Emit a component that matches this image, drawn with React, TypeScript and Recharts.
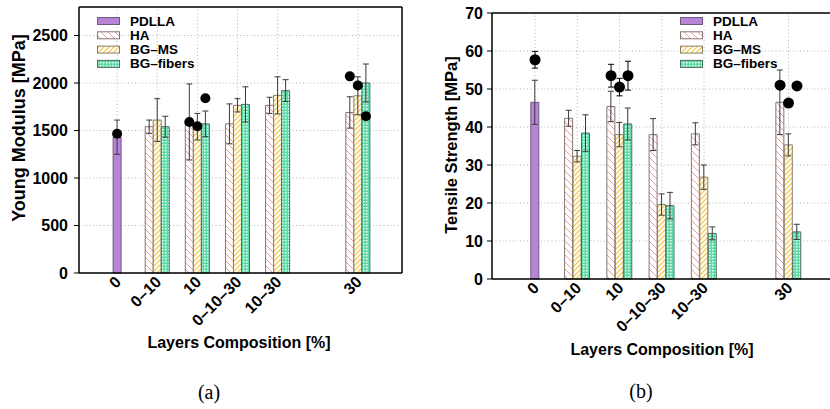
import * as React from "react"
import {
  ComposedChart,
  Bar,
  Line,
  ErrorBar,
  XAxis,
  YAxis,
  CartesianGrid,
  ReferenceLine,
  Legend,
} from "recharts"

// ─── Data ────────────────────────────────────────────────────────────────────
const CATEGORIES = ["0", "0–10", "10", "0–10–30", "10–30", "30"]
// position of each group on the composition axis (gap before 30)
const CATEGORY_POS = [0, 1, 2, 3, 4, 6]
const SERIES_NAMES = ["PDLLA", "HA", "BG–MS", "BG–fibers"]

// (a) Young modulus [MPa]
const YM_PDLLA = [1430, null, null, null, null, null]
const YM_PDLLA_ERR = [180, null, null, null, null, null]
const YM_HA = [null, 1540, 1590, 1570, 1765, 1690]
const YM_HA_ERR = [null, 70, 400, 210, 85, 165]
const YM_BGMS = [null, 1610, 1540, 1765, 1870, 1865]
const YM_BGMS_ERR = [null, 225, 140, 70, 195, 200]
const YM_FIB = [null, 1540, 1570, 1775, 1920, 2000]
const YM_FIB_ERR = [null, 110, 135, 185, 115, 200]
// black markers
const YM_DOT_PDLLA = [1465, null, null, null, null, null]
const YM_DOT_HA = [null, null, 1590, null, null, 2070]
const YM_DOT_BGMS = [null, null, 1545, null, null, 1975]
const YM_DOT_FIB = [null, null, 1840, null, null, 1650]
const YM_TICKS = [0, 500, 1000, 1500, 2000, 2500]

// (b) Tensile strength [MPa]
const TS_PDLLA = [46.5, null, null, null, null, null]
const TS_PDLLA_ERR = [5.8, null, null, null, null, null]
const TS_HA = [null, 42.3, 45.4, 38.0, 38.2, 46.5]
const TS_HA_ERR = [null, 2.1, 4.0, 4.2, 2.9, 8.5]
const TS_BGMS = [null, 32.3, 38.0, 19.6, 26.8, 35.3]
const TS_BGMS_ERR = [null, 1.5, 3.2, 2.8, 3.2, 2.9]
const TS_FIB = [null, 38.4, 40.8, 19.3, 12.0, 12.4]
const TS_FIB_ERR = [null, 4.8, 4.2, 3.5, 1.7, 2.0]
const TS_DOT_PDLLA = [57.7, null, null, null, null, null]
const TS_DOT_PDLLA_ERR = [2.2, null, null, null, null, null]
const TS_DOT_HA = [null, null, 53.5, null, null, 51.0]
const TS_DOT_HA_ERR = [null, null, 3.0, null, null, null]
const TS_DOT_BGMS = [null, null, 50.5, null, null, 46.3]
const TS_DOT_BGMS_ERR = [null, null, 2.3, null, null, null]
const TS_DOT_FIB = [null, null, 53.5, null, null, 50.8]
const TS_DOT_FIB_ERR = [null, null, 3.8, null, null, null]
const TS_TICKS = [0, 10, 20, 30, 40, 50, 60, 70]

const NONE = [null, null, null, null, null, null]

// ─── Style ───────────────────────────────────────────────────────────────────
const FONT = "'Liberation Sans', Arial, Helvetica, sans-serif"
const GRID = "#b4b4b4"
const SERIES_STROKE = ["#6f5a80", "#857474", "#85806c", "#566a62"]
const SERIES_SLOT = [0, -1, 0, 1] // bar offset inside a group, in bar widths

// the axis is cut into slots one bar wide
const BAR_UNIT = 0.2
const FIRST_SLOT = -0.8
const SLOT_COUNT = 40

type Val = number | null
type Row = { key: string; label: string; [k: string]: string | number | null }

function buildRows(values: Val[][], errors: Val[][], dots: Val[][], dotErrors: Val[][]) {
  const rows: Row[] = Array.from({ length: SLOT_COUNT }, (_, i) => ({ key: `s${i}`, label: "", dot: null, dotErr: null }))
  CATEGORY_POS.forEach((pos, c) => {
    const center = Math.round((pos - FIRST_SLOT) / BAR_UNIT)
    rows[center].label = CATEGORIES[c]
    SERIES_NAMES.forEach((_, s) => {
      const v = values[s][c]
      if (v == null) return
      const row = rows[center + SERIES_SLOT[s]]
      row[`v${s}`] = v
      row[`e${s}`] = errors[s][c]
      if (dots[s][c] != null) {
        row.dot = dots[s][c]
        row.dotErr = dotErrors[s][c]
      }
    })
  })
  return rows
}

function Patterns({ id }: { id: string }) {
  return (
    <defs>
      <pattern id={`${id}-p0`} width="4" height="4" patternUnits="userSpaceOnUse">
        <rect width="4" height="4" fill="#b784d8" />
      </pattern>
      <pattern id={`${id}-p1`} width="7" height="7" patternUnits="userSpaceOnUse">
        <rect width="7" height="7" fill="#fff" />
        <path d="M0,0 L7,7 M-1,6 L1,8 M6,-1 L8,1" stroke="#f09a9a" strokeWidth="1" />
      </pattern>
      <pattern id={`${id}-p2`} width="5" height="5" patternUnits="userSpaceOnUse">
        <rect width="5" height="5" fill="#fffdf3" />
        <path d="M0,5 L5,0 M-1,1 L1,-1 M4,6 L6,4" stroke="#f3c247" strokeWidth="1.1" />
      </pattern>
      <pattern id={`${id}-p3`} width="3" height="3" patternUnits="userSpaceOnUse">
        <rect width="3" height="3" fill="#58dba6" />
        <rect width="1.5" height="1.5" fill="#f0fcf6" />
      </pattern>
    </defs>
  )
}

function PanelLegend({ id }: { id: string }) {
  return (
    <svg width={140} height={64} style={{ overflow: "visible" }}>
      {SERIES_NAMES.map((name, s) => {
        const cy = 7 + s * 14.3
        return (
          <g key={name}>
            <rect x={0.5} y={cy - 3.5} width={22} height={7} fill={`url(#${id}-p${s})`} stroke={SERIES_STROKE[s]} />
            <text x={33} y={cy} dominantBaseline="central" fontFamily={FONT} fontWeight="bold" fontSize={13.5} fill="#000">
              {name}
            </text>
          </g>
        )
      })}
    </svg>
  )
}

function CategoryTick(props: any) {
  const { x, y, index, payload, rows } = props
  const label = rows[index ?? payload?.index]?.label
  if (!label) return null
  return (
    <text
      transform={`translate(${x + 5},${y + 10}) rotate(-45)`}
      textAnchor="end"
      fontFamily={FONT}
      fontWeight="bold"
      fontSize={16}
      fill="#000"
    >
      {label}
    </text>
  )
}

interface PanelProps {
  id: string
  rows: Row[]
  yMax: number
  yTicks: number[]
  width: number
  margin: { top: number; right: number; bottom: number; left: number }
  yAxisWidth: number
  padLeft: number
  tickMargin: number
  dotR: number
  legendPos: { left: number; top: number }
}

function Panel({ id, rows, yMax, yTicks, width, margin, yAxisWidth, padLeft, tickMargin, dotR, legendPos }: PanelProps) {
  const axisLine = { stroke: "#000", strokeWidth: 1.5 }
  const tickStyle = { fontSize: 16, fontWeight: "bold", fill: "#000", fontFamily: FONT }
  const centers = rows.filter((r) => r.label)
  const lastKey = rows[rows.length - 1].key
  return (
    <ComposedChart width={width} height={409} data={rows} margin={margin} barCategoryGap={0} barGap={0}>
      <Patterns id={id} />
      <CartesianGrid vertical={false} stroke={GRID} strokeDasharray="1 2.5" />
      {centers.map((r) => (
        <ReferenceLine key={r.key} x={r.key} stroke={GRID} strokeDasharray="1 2.5" zIndex={-100} />
      ))}
      <XAxis
        dataKey="key"
        type="category"
        interval={0}
        height={60}
        tickSize={0}
        tickMargin={0}
        axisLine={axisLine}
        tickLine={false}
        padding={{ left: padLeft, right: 0 }}
        tick={(p: any) => <CategoryTick {...p} rows={rows} />}
      />
      <YAxis
        type="number"
        domain={[0, yMax]}
        ticks={yTicks}
        width={yAxisWidth}
        axisLine={axisLine}
        tickLine={{ stroke: "#000" }}
        tickSize={5}
        tickMargin={tickMargin}
        tick={tickStyle}
      />
      {/* frame: top and right edges */}
      <ReferenceLine y={yMax} stroke="#000" strokeWidth={1.5} ifOverflow="visible" />
      <ReferenceLine x={lastKey} position="end" stroke="#000" strokeWidth={1.5} ifOverflow="visible" />
      {SERIES_NAMES.map((name, s) => (
        <Bar
          key={name}
          name={name}
          dataKey={`v${s}`}
          stackId="all"
          fill={`url(#${id}-p${s})`}
          stroke={SERIES_STROKE[s]}
          strokeWidth={1}
          isAnimationActive={false}
        >
          <ErrorBar dataKey={`e${s}`} width={3} stroke="#3a3a3a" strokeWidth={1} />
        </Bar>
      ))}
      <Line
        dataKey="dot"
        stroke="none"
        dot={{ r: dotR, fill: "#000", stroke: "#000", strokeWidth: 0 }}
        activeDot={false}
        isAnimationActive={false}
        legendType="none"
      >
        <ErrorBar dataKey="dotErr" width={3} stroke="#000" strokeWidth={1} />
      </Line>
      <Legend
        layout="vertical"
        align="center"
        verticalAlign="middle"
        wrapperStyle={{ left: legendPos.left, top: legendPos.top, width: 140, height: 64 }}
        content={() => <PanelLegend id={id} />}
      />
    </ComposedChart>
  )
}

const ymRows = buildRows(
  [YM_PDLLA, YM_HA, YM_BGMS, YM_FIB],
  [YM_PDLLA_ERR, YM_HA_ERR, YM_BGMS_ERR, YM_FIB_ERR],
  [YM_DOT_PDLLA, YM_DOT_HA, YM_DOT_BGMS, YM_DOT_FIB],
  [NONE, NONE, NONE, NONE]
)

const tsRows = buildRows(
  [TS_PDLLA, TS_HA, TS_BGMS, TS_FIB],
  [TS_PDLLA_ERR, TS_HA_ERR, TS_BGMS_ERR, TS_FIB_ERR],
  [TS_DOT_PDLLA, TS_DOT_HA, TS_DOT_BGMS, TS_DOT_FIB],
  [TS_DOT_PDLLA_ERR, TS_DOT_HA_ERR, TS_DOT_BGMS_ERR, TS_DOT_FIB_ERR]
)

function Title({ x, y, size, rotate, serif, children }: any) {
  return (
    <div
      style={{
        position: "absolute",
        left: x,
        top: y,
        transform: `translate(-50%, -50%)${rotate ? " rotate(-90deg)" : ""}`,
        whiteSpace: "nowrap",
        lineHeight: 1,
        fontFamily: serif ? "'Liberation Serif', 'Times New Roman', serif" : FONT,
        fontWeight: serif ? "normal" : "bold",
        fontSize: size,
        color: "#000",
      }}
    >
      {children}
    </div>
  )
}

export default function App() {
  return (
    <div style={{ position: "fixed", left: 0, top: 0, width: 830, height: 409, overflow: "hidden", background: "#fff" }}>
      <div style={{ position: "absolute", left: 0, top: 0 }}>
        <Panel
          id="ym"
          rows={ymRows}
          yMax={2800}
          yTicks={YM_TICKS}
          width={415}
          margin={{ top: 7, right: 13, bottom: 76, left: 0 }}
          yAxisWidth={79}
          padLeft={2}
          tickMargin={6}
          dotR={5}
          legendPos={{ left: 97, top: 14 }}
        />
      </div>
      <div style={{ position: "absolute", left: 415, top: 0 }}>
        <Panel
          id="ts"
          rows={tsRows}
          yMax={70}
          yTicks={TS_TICKS}
          width={430}
          margin={{ top: 13, right: 10, bottom: 70, left: 0 }}
          yAxisWidth={77}
          padLeft={5}
          tickMargin={4}
          dotR={5.5}
          legendPos={{ left: 265, top: 14 }}
        />
      </div>
      <Title x={19} y={128} size={18} rotate>Young Modulus [MPa]</Title>
      <Title x={451} y={145} size={16.5} rotate>Tensile Strength [MPa]</Title>
      <Title x={239} y={343} size={16}>Layers Composition [%]</Title>
      <Title x={662} y={350} size={16}>Layers Composition [%]</Title>
      <Title x={209} y={392} size={20} serif>(a)</Title>
      <Title x={641} y={391} size={20} serif>(b)</Title>
    </div>
  )
}
